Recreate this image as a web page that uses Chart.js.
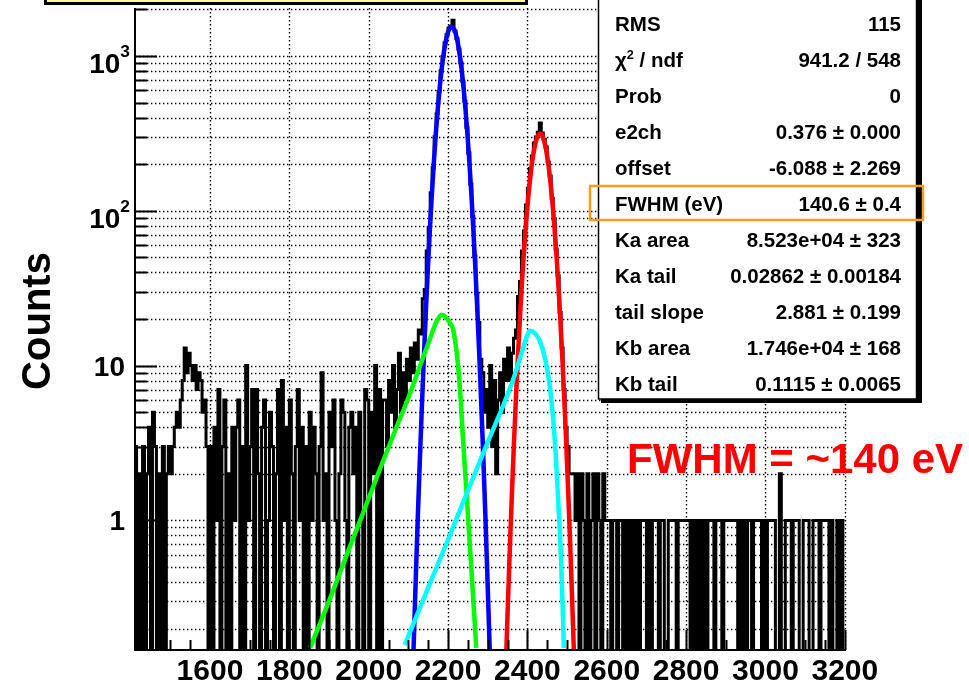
<!DOCTYPE html>
<html>
<head>
<meta charset="utf-8">
<script src="https://cdn.jsdelivr.net/npm/chart.js@4.4.1/dist/chart.umd.min.js"></script>
<style>
html, body { margin: 0; padding: 0; background: #fff; }
#wrap { position: relative; width: 969px; height: 684px; }
</style>
</head>
<body>
<div id="wrap"><canvas id="c"></canvas></div>
<script>
// ====== data ======
// histogram: 5-channel bins starting at channel 1410
const binStart = 1410, binWidth = 5;
const counts = [
  3,0,2,0,3,0,2,4,0,5,  3,0,2,0,3,0,2,3,2,3,
  4,5,4,6,8,13,9,12,10,8,  10,7,9,8,5,6,3,0,3,0,
  4,1,7,0,3,6,0,2,0,4,  1,4,6,0,3,0,10,1,3,7,
  0,7,2,0,4,6,0,1,5,3,  0,2,7,0,8,1,4,0,6,2,
  0,3,7,1,4,0,3,0,5,1,  4,2,0,3,9,1,2,0,5,3,
  6,1,0,2,6,5,1,0,4,5,  2,4,0,5,1,0,7,6,0,5,
  2,10,0,7,0,6,6,3,8,5,  10,4,7,12,5,9,6,11,8,13,
  9,14,11,17,16,27,31,55,78,131,  190,301,424,588,801,992,1215,1371,1520,1560,
  1705,1450,1298,1105,905,688,510,347,236,149,  92,51,29,19,11,9,5,7,4,10,
  3,8,2,6,9,5,11,8,13,8,  12,15,17,28,35,55,74,109,140,188,
  226,274,300,322,369,318,290,258,207,168,  120,89,56,38,22,13,7,4,3,2,
  2,2,1,2,0,2,1,0,2,0,  1,2,0,2,1,0,2,1,1,1,
  0,1,1,0,1,1,0,1,0,1,  0,1,0,1,0,1,1,1,0,1,
  0,1,1,1,0,1,1,0,0,1,  1,1,1,0,1,1,1,1,1,1,
  0,1,0,1,0,1,0,1,0,1,  1,1,0,1,1,1,0,1,1,1,
  1,1,1,1,0,1,0,1,0,1,  1,0,1,1,1,1,0,1,0,1,
  1,1,1,0,0,2,0,0,1,1,  1,0,1,1,1,0,0,1,1,1,
  0,0,1,1,1,0,1,1,1,1,  0,1,0,0,1,0,1,0,0
];

// fit components (channel, counts)
const blueX = [2113,2119,2124,2129,2134,2139,2144,2149,2154,2159,2164,2169,2174,2179,2184,2189,2194,2199,2204,2209,
               2214,2219,2224,2229,2234,2239,2244,2249,2254,2259,2264,2269,2274,2279,2284,2289,2294,2299,2305];
const blueY = [0.147,0.45,1.09,2.49,5.42,11.2,22.1,41.5,74,125,202,310,452,627,827,1037,1236,1402,1511,1550,
               1511,1402,1236,1037,827,627,452,310,202,125,74,41.5,22.1,11.2,5.42,2.49,1.09,0.45,0.147];
const redX = [2347,2352,2357,2362,2367,2372,2377,2382,2387,2392,2397,2402,2407,2412,2417,2422,2427,2432,
              2437,2442,2447,2452,2457,2462,2467,2472,2477,2482,2487,2492,2497,2502,2507,2512,2517];
const redY = [0.147,0.354,0.805,1.74,3.56,6.92,12.7,22.2,36.8,57.8,86,121.5,162.8,206.7,249,284,307.7,316,
              307.7,284,249,206.7,162.8,121.5,86,57.8,36.8,22.2,12.7,6.92,3.56,1.74,0.805,0.354,0.147];
const greenX = [1852,1902,1950,1986,2030,2070,2100,2129,2154,2170,2184,2195,2204,2213,2222,2230,2238,2245,2251,2258,2264,2271];
const greenY = [0.15,0.31,0.65,1.12,2.2,4.0,6.2,9.9,14.8,19,21.3,20.5,19,17,12,7.1,3.3,1.74,1.0,0.52,0.30,0.15];
const cyanX = [2091,2154,2200,2238,2297,2340,2364,2385,2397,2406,2418,2431,2445,2456,2465,2472,2478,2485,2490,2492];
const cyanY = [0.157,0.39,0.75,1.31,3.07,5.6,8.1,12,15,16.8,16.3,14.5,11,7.5,4.5,2.5,1.3,0.55,0.22,0.15];

const xTicks = [1600, 1800, 2000, 2200, 2400, 2600, 2800, 3000, 3200];
const yLabelVals = [1, 10, 100, 1000];
const yLabels = ['1', '10', '10\u00b2', '10\u00b3'];
const yTitle = 'Counts';

const statLabels = ['RMS', '\u03c7\u00b2 / ndf', 'Prob', 'e2ch', 'offset', 'FWHM (eV)', 'Ka area', 'Ka tail', 'tail slope', 'Kb area', 'Kb tail'];
const statValues = ['115', '941.2 / 548', '0', '0.376 \u00b1 0.000', '-6.088 \u00b1 2.269', '140.6 \u00b1 0.4',
                    '8.523e+04 \u00b1 323', '0.02862 \u00b1 0.00184', '2.881 \u00b1 0.199', '1.746e+04 \u00b1 168', '0.1115 \u00b1 0.0065'];
const fwhmNote = 'FWHM = ~140 eV';

const X_MIN = 1411, X_MAX = 3203, Y_MIN = 0.1455, Y_MAX = 2043;
const FONT = '"Liberation Sans", Arial, Helvetica, sans-serif';

// histogram as step points (left edge of every bin + closing edge); empty bins sink below the frame
const histPts = counts.map((c, i) => ({ x: binStart + i * binWidth, y: c > 0 ? c : Y_MIN / 10 }));
histPts.push({ x: binStart + counts.length * binWidth, y: histPts[histPts.length - 1].y });
const pts = (xs, ys) => xs.map((x, i) => ({ x, y: ys[i] }));

// text with ² / ³ drawn as raised small digits (ROOT-style superscripts)
const SUP = { '\u00b2': '2', '\u00b3': '3' };
function richParts(str) {
    const parts = [];
    for (const ch of str) {
        const sup = ch in SUP, last = parts[parts.length - 1];
        if (last && last.sup === sup) last.t += sup ? SUP[ch] : ch;
        else parts.push({ t: sup ? SUP[ch] : ch, sup });
    }
    return parts;
}
function drawRich(ctx, str, x, y, size, align, rise) {
    const parts = richParts(str);
    const fontOf = p => `bold ${p.sup ? size * 0.62 : size}px ${FONT}`;
    let w = 0;
    parts.forEach(p => { ctx.font = fontOf(p); w += ctx.measureText(p.t).width; });
    let cx = align === 'right' ? x - w : x;
    ctx.textAlign = 'left';
    parts.forEach(p => { ctx.font = fontOf(p); ctx.fillText(p.t, cx, p.sup ? y - rise : y); cx += ctx.measureText(p.t).width; });
}

function logGridVals() {
    const v = [];
    for (let e = -1; e <= 3; e++) for (let m = 1; m <= 9; m++) {
        const val = m * Math.pow(10, e);
        if (val >= Y_MIN && val <= Y_MAX) v.push(val);
    }
    return v;
}

// ROOT-like frame: dotted grid under the data, inward ticks, labels, stats box on top
const rootFrame = {
    id: 'rootFrame',
    beforeDatasetsDraw(chart) {
        const { ctx, chartArea: a, scales: { x, y } } = chart;
        ctx.save();
        ctx.strokeStyle = '#000'; ctx.lineWidth = 1.4; ctx.setLineDash([1.4, 2.6]);
        logGridVals().forEach(v => {
            const py = Math.round(y.getPixelForValue(v)) + 0.5;
            ctx.beginPath(); ctx.moveTo(a.left, py); ctx.lineTo(a.right, py); ctx.stroke();
        });
        xTicks.forEach(v => {
            const px = Math.round(x.getPixelForValue(v)) + 0.5;
            ctx.beginPath(); ctx.moveTo(px, a.top); ctx.lineTo(px, a.bottom); ctx.stroke();
        });
        ctx.restore();
    },
    afterDatasetsDraw(chart) {
        const { ctx, chartArea: a, scales: { x, y } } = chart;
        ctx.save();
        ctx.strokeStyle = '#000'; ctx.lineWidth = 2;
        ctx.beginPath(); ctx.moveTo(a.left, a.top); ctx.lineTo(a.left, a.bottom); ctx.lineTo(a.right, a.bottom); ctx.stroke();
        logGridVals().forEach(v => {
            const py = Math.round(y.getPixelForValue(v)) + 0.5;
            const major = yLabelVals.includes(v);
            ctx.beginPath(); ctx.moveTo(a.left, py); ctx.lineTo(a.left + (major ? 22 : 12), py); ctx.stroke();
        });
        for (let v = 1450; v <= X_MAX; v += 50) {
            const px = Math.round(x.getPixelForValue(v)) + 0.5;
            ctx.beginPath(); ctx.moveTo(px, a.bottom); ctx.lineTo(px, a.bottom - (v % 200 === 0 ? 20 : 10)); ctx.stroke();
        }
        ctx.restore();
    },
    afterDraw(chart) {
        const { ctx, scales: { y } } = chart;
        ctx.save();
        ctx.fillStyle = '#000';
        ctx.textBaseline = 'alphabetic';
        // y tick labels
        yLabelVals.forEach((v, i) => {
            const py = y.getPixelForValue(v);
            const hasSup = /[\u00b2\u00b3]/.test(yLabels[i]);
            drawRich(ctx, yLabels[i], hasSup ? 130 : 125, py + (hasSup ? 17 : 10), 28, 'right', 16);
        });
        // y title
        ctx.save();
        ctx.translate(50, 321); ctx.rotate(-Math.PI / 2);
        ctx.font = `bold 40px ${FONT}`; ctx.textAlign = 'center';
        ctx.fillText(yTitle, 0, 0);
        ctx.restore();

        // stats box with shadow
        ctx.fillStyle = '#000'; ctx.fillRect(601, -2, 321, 405);
        ctx.fillStyle = '#fff'; ctx.fillRect(598, -5, 319, 404);
        ctx.strokeStyle = '#000'; ctx.lineWidth = 1.5; ctx.strokeRect(598.5, -5, 318, 404);
        ctx.fillStyle = '#000';
        statLabels.forEach((t, i) => {
            const by = 23 + 36 * i + 7.5;
            drawRich(ctx, t, 615, by, 20.5, 'left', 8);
            drawRich(ctx, statValues[i], 901, by, 20.5, 'right', 8);
        });
        // highlight around the FWHM row
        ctx.strokeStyle = '#f99d1c'; ctx.lineWidth = 2.5;
        ctx.strokeRect(590, 186, 333, 34);

        // yellow title box (cut by the top edge)
        ctx.fillStyle = '#ffff99'; ctx.fillRect(44, -10, 483, 13.5);
        ctx.strokeStyle = '#000'; ctx.lineWidth = 3; ctx.strokeRect(45.5, -10, 481, 13.5);

        // annotation
        ctx.fillStyle = '#ff0000';
        ctx.font = `bold 42px ${FONT}`; ctx.textAlign = 'left';
        ctx.fillText(fwhmNote, 627, 473);
        ctx.restore();
    }
};

const curve = (xs, ys, col, order) => ({
    data: pts(xs, ys), borderColor: col, borderWidth: 4.5, pointRadius: 0,
    cubicInterpolationMode: 'monotone', fill: false, order, clip: 0
});

new Chart(document.getElementById('c').getContext('2d'), {
    type: 'line',
    data: {
        datasets: [
            curve(cyanX, cyanY, '#00ffff', 1),
            curve(greenX, greenY, '#00ff00', 2),
            curve(redX, redY, '#ff0000', 3),
            curve(blueX, blueY, '#0000ff', 4),
            { data: histPts, stepped: true, borderColor: '#000', borderWidth: 3, pointRadius: 0, fill: false, order: 5, clip: 0 }
        ]
    },
    options: {
        responsive: true, maintainAspectRatio: false, animation: false,
        layout: { padding: { top: 8, right: 123, left: 0, bottom: 0 } },
        plugins: { legend: { display: false }, tooltip: { enabled: false } },
        scales: {
            x: {
                type: 'linear', min: X_MIN, max: X_MAX,
                grid: { display: false, drawTicks: false }, border: { display: false },
                afterBuildTicks: s => { s.ticks = xTicks.map(v => ({ value: v })); },
                afterFit: s => { s.height = 34; },
                ticks: { color: '#000', padding: 4, maxRotation: 0, autoSkip: false,
                         font: { family: FONT, weight: 'bold', size: 30 }, callback: v => String(v) }
            },
            y: {
                type: 'logarithmic', min: Y_MIN, max: Y_MAX,
                grid: { display: false, drawTicks: false }, border: { display: false },
                ticks: { display: false },
                afterFit: s => { s.width = 135; }
            }
        }
    },
    plugins: [rootFrame]
});
</script>
</body>
</html>
